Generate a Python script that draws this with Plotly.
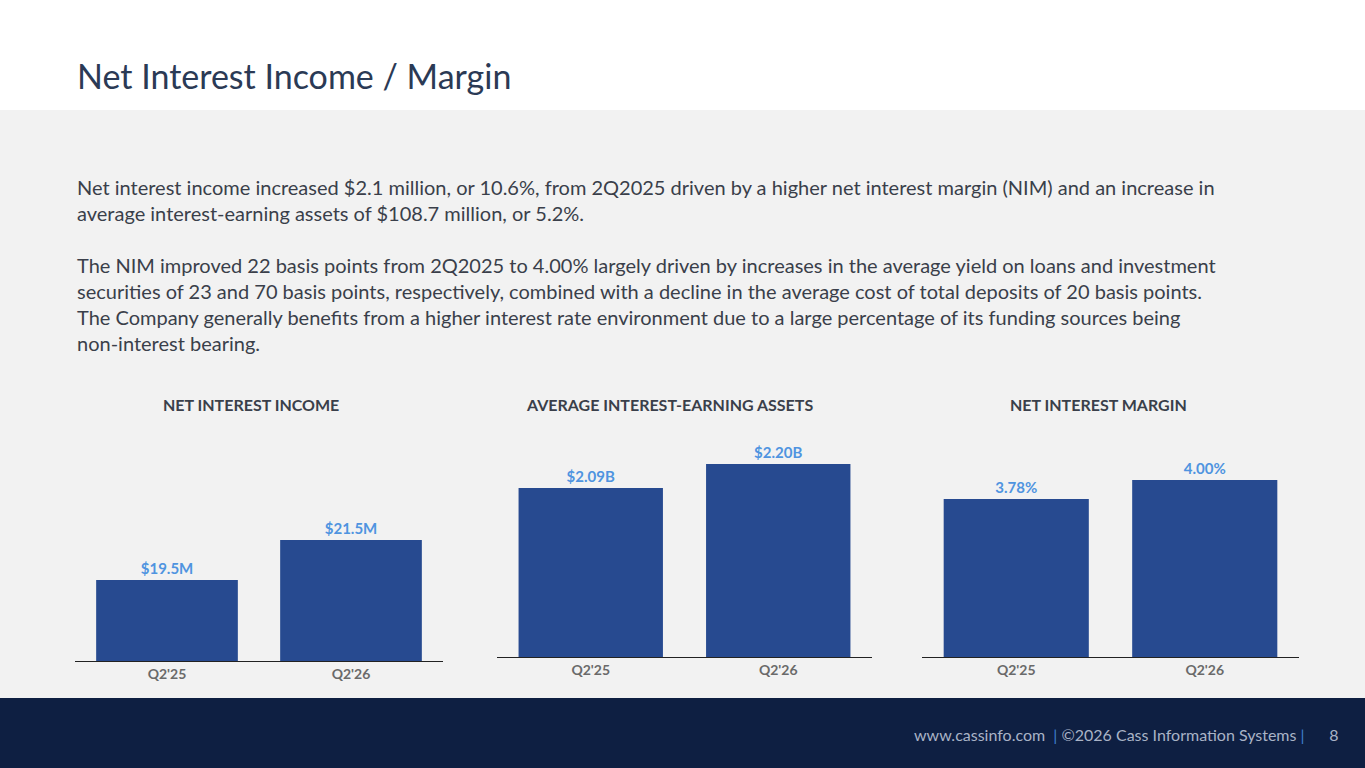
import plotly.graph_objects as go

quarters = ["Q2'25", "Q2'26"]
nii = [19.5, 21.5]
nii_labels = ["$19.5M", "$21.5M"]
assets = [2.09, 2.20]
assets_labels = ["$2.09B", "$2.20B"]
nim = [3.78, 4.00]
nim_labels = ["3.78%", "4.00%"]

W, H = 1365, 768
FONT = "Lato"
BAR = "#274a90"
LABEL = "#4f94e0"


def px(x):
    return x / W


def py(y):
    return 1 - y / H


fig = go.Figure()

panels = [
    (nii, nii_labels, "NET INTEREST INCOME", (75, 443), 661, [15.45, 27.5], 251),
    (assets, assets_labels, "AVERAGE INTEREST-EARNING ASSETS", (497, 872), 657, [1.315, 2.402], 669),
    (nim, nim_labels, "NET INTEREST MARGIN", (922, 1299), 657, [1.951, 4.694], 1098),
]

for i, (vals, labels, title, (x0, x1), base, rng, tx) in enumerate(panels, start=1):
    fig.add_trace(go.Bar(
        x=quarters, y=vals, text=[f"<b>{t}</b>" for t in labels], textposition="outside",
        textfont=dict(color=LABEL, size=15, family=FONT), cliponaxis=False,
        marker=dict(color=BAR, line=dict(width=0)), width=0.77,
        xaxis=f"x{i}", yaxis=f"y{i}", showlegend=False, hoverinfo="skip",
    ))
    fig.layout[f"xaxis{i}"] = dict(
        domain=[px(x0), px(x1)], anchor=f"y{i}", showline=True, linecolor="#222", linewidth=1.2,
        ticks="", tickfont=dict(color="#6a6a6a", size=14, family=FONT), fixedrange=True,
        tickvals=quarters, ticktext=[f"<b>{q}</b>" for q in quarters],
    )
    fig.layout[f"yaxis{i}"] = dict(
        domain=[py(base), py(420)], anchor=f"x{i}", range=rng, visible=False, showgrid=False,
    )
    fig.add_annotation(text=f"<b>{title}</b>", x=px(tx), y=py(404), xref="paper", yref="paper",
                       xanchor="center", showarrow=False, font=dict(color="#3a3f4a", size=16, family=FONT))

shapes = [
    dict(type="rect", x0=0, x1=1, y0=py(110), y1=1, fillcolor="white", line_width=0, layer="below"),
    dict(type="rect", x0=0, x1=1, y0=py(698), y1=py(110), fillcolor="#f2f2f2", line_width=0, layer="below"),
    dict(type="rect", x0=0, x1=1, y0=0, y1=py(698), fillcolor="#0e1f42", line_width=0, layer="below"),
]
for s in shapes:
    s.update(xref="paper", yref="paper")

fig.add_annotation(text="Net Interest Income / Margin", x=px(75), y=py(75), xref="paper", yref="paper",
                   xanchor="left", yanchor="middle", showarrow=False,
                   font=dict(color="#2b3a55", size=34, family=FONT))

body = ("Net interest income increased $2.1 million, or 10.6%, from 2Q2025 driven by a higher net interest margin (NIM) and an increase in<br>"
        "average interest-earning assets of $108.7 million, or 5.2%.<br><br>"
        "The NIM improved 22 basis points from 2Q2025 to 4.00% largely driven by increases in the average yield on loans and investment<br>"
        "securities of 23 and 70 basis points, respectively, combined with a decline in the average cost of total deposits of 20 basis points.<br>"
        "The Company generally benefits from a higher interest rate environment due to a large percentage of its funding sources being<br>"
        "non-interest bearing.")
fig.add_annotation(text=body, x=px(75), y=py(173), xref="paper", yref="paper", xanchor="left", yanchor="top",
                   align="left", showarrow=False, font=dict(color="#3a3f4a", size=20, family=FONT))

fig.add_annotation(text="www.cassinfo.com  <span style='color:#3f7fd0'>|</span> ©2026 Cass Information Systems <span style='color:#3f7fd0'>|</span>      8",
                   x=px(1340), y=py(734), xref="paper", yref="paper", xanchor="right", yanchor="middle",
                   showarrow=False, font=dict(color="#a9b3c6", size=16, family=FONT))

fig.update_layout(width=W, height=H, margin=dict(l=0, r=0, t=0, b=0), shapes=shapes,
                  paper_bgcolor="white", plot_bgcolor="rgba(0,0,0,0)", bargap=0.23)

fig.write_html("out.html", config={"displayModeBar": False},
               post_script="document.body.style.margin='0';document.body.style.overflow='hidden';")
